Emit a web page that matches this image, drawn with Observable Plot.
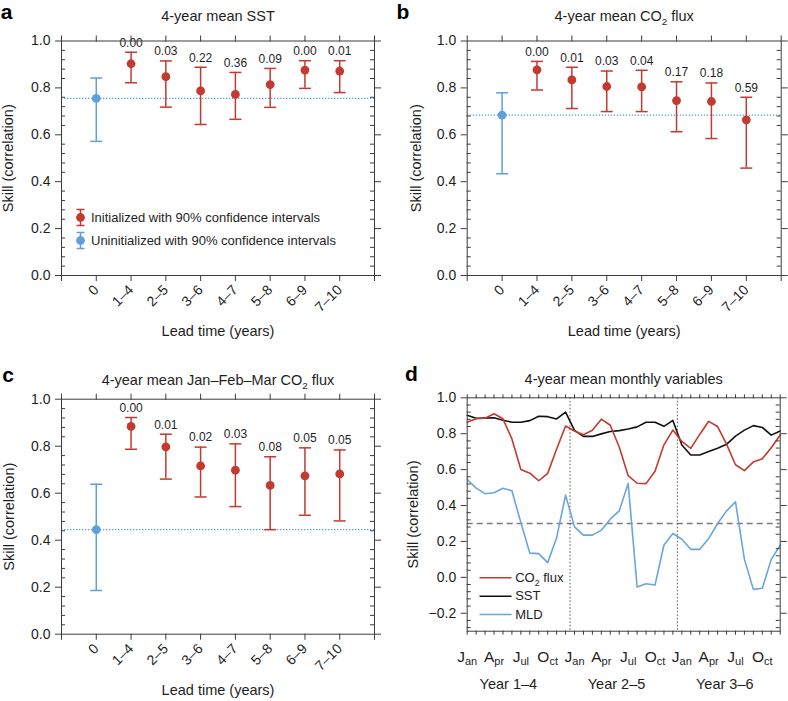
<!DOCTYPE html>
<html>
<head>
<meta charset="utf-8">
<script src="https://cdn.jsdelivr.net/npm/d3@7"></script>
<script src="https://cdn.jsdelivr.net/npm/@observablehq/plot@0.6"></script>
<style>
  body { margin: 0; background: #fff; }
  #fig { position: relative; width: 788px; height: 701px; overflow: hidden; background: #fff; }
  #fig svg { position: absolute; }
</style>
</head>
<body>
<div id="fig"></div>
<script>
// ---------------- data ----------------
const leadTimes = ["0", "1–4", "2–5", "3–6", "4–7", "5–8", "6–9", "7–10"];

// panel a: 4-year mean SST (index 0 = uninitialized)
const sstSkill   = [0.755, 0.903, 0.848, 0.787, 0.772, 0.814, 0.876, 0.872];
const sstLower   = [0.572, 0.822, 0.718, 0.644, 0.666, 0.717, 0.798, 0.780];
const sstUpper   = [0.842, 0.952, 0.915, 0.888, 0.866, 0.883, 0.916, 0.916];
const sstPValues = ["", "0.00", "0.03", "0.22", "0.36", "0.09", "0.00", "0.01"];

// panel b: 4-year mean CO2 flux
const co2Skill   = [0.684, 0.877, 0.834, 0.806, 0.804, 0.746, 0.742, 0.664];
const co2Lower   = [0.434, 0.791, 0.712, 0.699, 0.699, 0.613, 0.584, 0.458];
const co2Upper   = [0.779, 0.913, 0.888, 0.872, 0.875, 0.826, 0.821, 0.760];
const co2PValues = ["", "0.00", "0.01", "0.03", "0.04", "0.17", "0.18", "0.59"];

// panel c: 4-year mean Jan-Feb-Mar CO2 flux
const jfmSkill   = [0.445, 0.884, 0.797, 0.716, 0.698, 0.633, 0.674, 0.682];
const jfmLower   = [0.186, 0.787, 0.660, 0.584, 0.543, 0.445, 0.506, 0.482];
const jfmUpper   = [0.638, 0.922, 0.851, 0.796, 0.810, 0.755, 0.793, 0.784];
const jfmPValues = ["", "0.00", "0.01", "0.02", "0.03", "0.08", "0.05", "0.05"];

// panel d: monthly skill, 36 months (Year 1–4, Year 2–5, Year 3–6)
const co2FluxMonthly = [0.864, 0.883, 0.886, 0.911, 0.883, 0.771, 0.601, 0.580, 0.538, 0.579, 0.715, 0.843,
                        0.815, 0.794, 0.819, 0.881, 0.847, 0.726, 0.566, 0.524, 0.522, 0.591, 0.738, 0.820,
                        0.757, 0.718, 0.796, 0.869, 0.840, 0.742, 0.627, 0.594, 0.643, 0.661, 0.722, 0.793];
const sstMonthly     = [0.903, 0.886, 0.887, 0.889, 0.875, 0.864, 0.864, 0.873, 0.897, 0.895, 0.882, 0.920,
                        0.819, 0.785, 0.785, 0.799, 0.812, 0.817, 0.826, 0.838, 0.864, 0.864, 0.841, 0.874,
                        0.737, 0.681, 0.681, 0.701, 0.719, 0.741, 0.787, 0.820, 0.845, 0.835, 0.792, 0.815];
const mldMonthly     = [0.545, 0.497, 0.466, 0.471, 0.496, 0.482, 0.305, 0.135, 0.132, 0.082, 0.221, 0.458,
                        0.281, 0.235, 0.235, 0.263, 0.324, 0.370, 0.523, -0.054, -0.036, -0.043, 0.180, 0.244,
                        0.212, 0.156, 0.156, 0.216, 0.300, 0.370, 0.420, 0.100, -0.067, -0.061, 0.100, 0.179];
const monthNames = ["Jan","Feb","Mar","Apr","May","Jun","Jul","Aug","Sep","Oct","Nov","Dec"];
const labelledMonths = ["Jan", "Apr", "Jul", "Oct"];
const leadYears = ["Year 1–4", "Year 2–5", "Year 3–6"];
const leadYearCentreMonth = [4.6, 16.7, 28.8];
const yearBoundaries = [11.5, 23.5];
const significanceLevel = 0.3;

// ---------------- styling ----------------
const RED = "#c23a30", BLUE = "#5f9fdc", MLDBLUE = "#69a5df", FRAME = "#3c3c3c", TEXT = "#1e1e1e";
const FONT = '"Liberation Sans", Arial, Helvetica, sans-serif';
const capSymbol = {draw(ctx) { ctx.moveTo(-6, 0); ctx.lineTo(6, 0); }};
const legendBarSymbol = {draw(ctx) {
  ctx.moveTo(0, -8); ctx.lineTo(0, 8);
  ctx.moveTo(-4, -8); ctx.lineTo(4, -8);
  ctx.moveTo(-4, 8); ctx.lineTo(4, 8);
}};
const legendLineSymbol = {draw(ctx) { ctx.moveTo(0, 0); ctx.lineTo(32, 0); }};
const fmt1 = d3.format(".1f");

function minorTicks(kMin, kMax) {
  const out = [];
  for (let k = kMin; k <= kMax; k++) if (k % 5 !== 0) out.push(+(k * 0.04).toFixed(2));
  return out;
}

function commonStyle() {
  return {fontFamily: FONT, fontSize: "14px", color: TEXT, background: "none", overflow: "visible"};
}

function errorPanel(o) {
  const rows = leadTimes.map((lt, i) => ({i, lt, r: o.skill[i], lo: o.lower[i], hi: o.upper[i], p: o.pvals[i],
                                          c: i === 0 ? BLUE : RED}));
  const W = 394;
  const frameW = W - o.mL - o.mR;
  const majors = [0, 0.2, 0.4, 0.6, 0.8, 1.0];
  const minors = minorTicks(0, 25);
  const xt = d3.range(-1, 9);
  const marks = [
    Plot.ruleY([o.skill[0]], {stroke: BLUE, strokeWidth: 1.3, strokeDasharray: "1.4,1.6"}),
    Plot.ruleX(rows, {x: "i", y1: "lo", y2: "hi", stroke: "c", strokeWidth: 1.5}),
    Plot.dot(rows, {x: "i", y: "lo", symbol: capSymbol, stroke: "c", fill: "none", strokeWidth: 1.5}),
    Plot.dot(rows, {x: "i", y: "hi", symbol: capSymbol, stroke: "c", fill: "none", strokeWidth: 1.5}),
    Plot.dot(rows, {x: "i", y: "r", r: 4.4, fill: "c", stroke: "none"}),
    Plot.text(rows.filter(d => d.p), {x: "i", y: "hi", text: "p", dy: -9.5, lineAnchor: "middle", fontSize: 12, fill: TEXT}),
    Plot.frame({stroke: FRAME, strokeWidth: 1}),
    Plot.axisY(majors, {anchor: "left", tickSize: 6, tickPadding: 5, tickFormat: fmt1, label: null, fontSize: 14, stroke: FRAME}),
    Plot.axisY(majors, {anchor: "right", tickSize: 6, tickFormat: () => "", label: null, stroke: FRAME}),
    Plot.tickY(minors, {y: d => d, stroke: FRAME, insetRight: frameW - 4}),
    Plot.tickY(minors, {y: d => d, stroke: FRAME, insetLeft: frameW - 4}),
    Plot.axisX(xt, {anchor: "bottom", tickSize: 6, tickPadding: 6, tickRotate: -45,
                    tickFormat: i => leadTimes[i] ?? "", label: null, fontSize: 14, stroke: FRAME}),
    Plot.axisX(xt, {anchor: "top", tickSize: 6, tickFormat: () => "", label: null, stroke: FRAME}),
    Plot.text([o.title], {text: d => d, frameAnchor: "top", dy: o.titleDy, lineAnchor: "middle", textAnchor: "middle", fontSize: 14.5, fill: TEXT}),
    Plot.text([o.letter], {text: d => d, frameAnchor: "top-left", dx: o.letterDx, dy: o.letterDy, lineAnchor: "middle", textAnchor: "middle", fontSize: 21, fontWeight: "bold", fill: "#000"}),
    Plot.text(["Skill (correlation)"], {text: d => d, frameAnchor: "left", dx: o.yLabelDx, rotate: -90, lineAnchor: "middle", textAnchor: "middle", fontSize: 14.5, fill: TEXT}),
    Plot.text(["Lead time (years)"], {text: d => d, frameAnchor: "bottom", dy: o.xLabelDy, lineAnchor: "middle", textAnchor: "middle", fontSize: 14.5, fill: TEXT})
  ];
  if (o.legend) {
    const legendRows = [
      {label: "Initialized with 90% confidence intervals", c: RED, dy: -58},
      {label: "Uninitialized with 90% confidence intervals", c: BLUE, dy: -35}
    ];
    for (const L of legendRows) {
      marks.push(Plot.dot([L], {frameAnchor: "bottom-left", dx: 19, dy: L.dy, symbol: legendBarSymbol, stroke: L.c, fill: "none", strokeWidth: 1.5}));
      marks.push(Plot.dot([L], {frameAnchor: "bottom-left", dx: 19, dy: L.dy, r: 4.4, fill: L.c, stroke: "none"}));
      marks.push(Plot.text([L], {text: "label", frameAnchor: "bottom-left", dx: 29.5, dy: L.dy, textAnchor: "start", lineAnchor: "middle", fontSize: 13, fill: TEXT}));
    }
  }
  const svg = Plot.plot({
    width: W, height: o.height,
    marginLeft: o.mL, marginRight: o.mR, marginTop: o.mT, marginBottom: o.mB,
    x: {domain: [-1, 8], axis: null},
    y: {domain: [0, 1], axis: null},
    color: {type: "identity"},
    style: commonStyle(),
    marks
  });
  svg.style.left = o.left + "px";
  svg.style.top = o.top + "px";
  return svg;
}

function monthlyPanel(o) {
  const W = 394;
  const frameW = W - o.mL - o.mR;
  const rows = sstMonthly.map((_, i) => ({i, co2: co2FluxMonthly[i], sst: sstMonthly[i], mld: mldMonthly[i]}));
  const majors = [-0.2, 0, 0.2, 0.4, 0.6, 0.8, 1.0];
  const minors = minorTicks(-7, 25);
  const monthTicks = d3.range(0, 36);
  const monthLabels = monthTicks.filter(i => labelledMonths.includes(monthNames[i % 12])).map(i => ({i, m: monthNames[i % 12]}));
  const yearRows = leadYears.map((t, k) => ({x: leadYearCentreMonth[k], t}));
  const legendRows = [
    {label: "CO₂ flux", c: RED, dy: -53.5},
    {label: "SST", c: "#111", dy: -35},
    {label: "MLD", c: MLDBLUE, dy: -16.7}
  ];
  const marks = [
    Plot.ruleY([significanceLevel], {stroke: "#7a7a7a", strokeWidth: 1.5, strokeDasharray: "6,4"}),
    Plot.ruleX(yearBoundaries, {x: d => d, stroke: "#555", strokeWidth: 1, strokeDasharray: "1.5,2"}),
    Plot.line(rows, {x: "i", y: "mld", stroke: MLDBLUE, strokeWidth: 1.6}),
    Plot.line(rows, {x: "i", y: "sst", stroke: "#111", strokeWidth: 1.6}),
    Plot.line(rows, {x: "i", y: "co2", stroke: RED, strokeWidth: 1.6}),
    Plot.frame({stroke: FRAME, strokeWidth: 1}),
    Plot.axisY(majors, {anchor: "left", tickSize: 6, tickPadding: 5, tickFormat: fmt1, label: null, fontSize: 14, stroke: FRAME}),
    Plot.axisY(majors, {anchor: "right", tickSize: 6, tickFormat: () => "", label: null, stroke: FRAME}),
    Plot.tickY(minors, {y: d => d, stroke: FRAME, insetRight: frameW - 4}),
    Plot.tickY(minors, {y: d => d, stroke: FRAME, insetLeft: frameW - 4}),
    Plot.axisX(monthTicks, {anchor: "bottom", tickSize: 4, tickFormat: () => "", label: null, stroke: FRAME}),
    Plot.axisX(monthTicks, {anchor: "top", tickSize: 4, tickFormat: () => "", label: null, stroke: FRAME}),
    Plot.text(monthLabels, {x: "i", text: "m", frameAnchor: "bottom", dy: 25.5, lineAnchor: "middle", textAnchor: "middle", fontSize: 15.5, fill: TEXT}),
    Plot.text(yearRows, {x: "x", text: "t", frameAnchor: "bottom", dy: 53, lineAnchor: "middle", textAnchor: "middle", fontSize: 14.5, fill: TEXT}),
    Plot.text([o.title], {text: d => d, frameAnchor: "top", dy: o.titleDy, lineAnchor: "middle", textAnchor: "middle", fontSize: 14.5, fill: TEXT}),
    Plot.text([o.letter], {text: d => d, frameAnchor: "top-left", dx: o.letterDx, dy: o.letterDy, lineAnchor: "middle", textAnchor: "middle", fontSize: 21, fontWeight: "bold", fill: "#000"}),
    Plot.text(["Skill (correlation)"], {text: d => d, frameAnchor: "left", dx: o.yLabelDx, rotate: -90, lineAnchor: "middle", textAnchor: "middle", fontSize: 14.5, fill: TEXT})
  ];
  for (const L of legendRows) {
    marks.push(Plot.dot([L], {frameAnchor: "bottom-left", dx: 12.3, dy: L.dy, symbol: legendLineSymbol, stroke: L.c, fill: "none", strokeWidth: 1.6}));
    marks.push(Plot.text([L], {text: "label", frameAnchor: "bottom-left", dx: 48, dy: L.dy, textAnchor: "start", lineAnchor: "middle", fontSize: 13, fill: TEXT}));
  }
  const svg = Plot.plot({
    width: W, height: o.height,
    marginLeft: o.mL, marginRight: o.mR, marginTop: o.mT, marginBottom: o.mB,
    x: {domain: [0, 35], axis: null},
    y: {domain: [-0.3, 1.0], axis: null},
    style: commonStyle(),
    marks
  });
  svg.style.left = o.left + "px";
  svg.style.top = o.top + "px";
  return svg;
}

// ---------------- subscript post-processing (keeps text as real text) ----------------
function setSegments(t, segs) {
  while (t.firstChild) t.removeChild(t.firstChild);
  let shifted = 0;
  for (const s of segs) {
    const ts = document.createElementNS("http://www.w3.org/2000/svg", "tspan");
    ts.textContent = s.text;
    if (s.sub) {
      ts.setAttribute("font-size", s.size);
      ts.setAttribute("dy", s.shift - shifted);
      shifted = s.shift;
    } else if (shifted) {
      ts.setAttribute("dy", -shifted);
      shifted = 0;
    }
    t.appendChild(ts);
  }
}
function subscriptify(svg) {
  svg.querySelectorAll("text").forEach(t => {
    if (t.querySelector("tspan")) return;
    const s = t.textContent;
    if (s.includes("₂")) {
      const fs = parseFloat(t.getAttribute("font-size") || getComputedStyle(t).fontSize) || 14;
      const parts = s.split("₂");
      const segs = [];
      parts.forEach((p, k) => {
        if (p) segs.push({text: p});
        if (k < parts.length - 1) segs.push({text: "2", sub: true, size: (fs * 0.68).toFixed(1), shift: fs * 0.28});
      });
      setSegments(t, segs);
    } else if (labelledMonths.includes(s)) {
      setSegments(t, [{text: s[0]}, {text: s.slice(1), sub: true, size: 11, shift: 3}]);
    }
  });
}

// ---------------- build ----------------
const fig = document.getElementById("fig");
const panels = [
  errorPanel({skill: sstSkill, lower: sstLower, upper: sstUpper, pvals: sstPValues,
    title: "4-year mean SST", letter: "a", left: 0, top: 0, height: 350,
    mL: 61, mR: 20, mT: 40.5, mB: 75, titleDy: -24.7, letterDx: -55, letterDy: -29, yLabelDx: -53, xLabelDy: 55.5, legend: true}),
  errorPanel({skill: co2Skill, lower: co2Lower, upper: co2Upper, pvals: co2PValues,
    title: "4-year mean CO₂ flux", letter: "b", left: 394, top: 0, height: 350,
    mL: 72.7, mR: 7.3, mT: 40.5, mB: 75, titleDy: -24.7, letterDx: -64.4, letterDy: -28.6, yLabelDx: -51, xLabelDy: 55.5, legend: false}),
  errorPanel({skill: jfmSkill, lower: jfmLower, upper: jfmUpper, pvals: jfmPValues,
    title: "4-year mean Jan–Feb–Mar CO₂ flux", letter: "c", left: 0, top: 350, height: 351,
    mL: 61, mR: 20, mT: 48.7, mB: 67.3, titleDy: -19.2, letterDx: -53.5, letterDy: -24.4, yLabelDx: -52, xLabelDy: 56.5, legend: false}),
  monthlyPanel({title: "4-year mean monthly variables", letter: "d", left: 394, top: 350, height: 351,
    mL: 72.7, mR: 8.3, mT: 47.3, mB: 70.3, titleDy: -18.3, letterDx: -55.7, letterDy: -23.7, yLabelDx: -54})
];
for (const p of panels) { fig.appendChild(p); subscriptify(p); }
</script>
</body>
</html>
